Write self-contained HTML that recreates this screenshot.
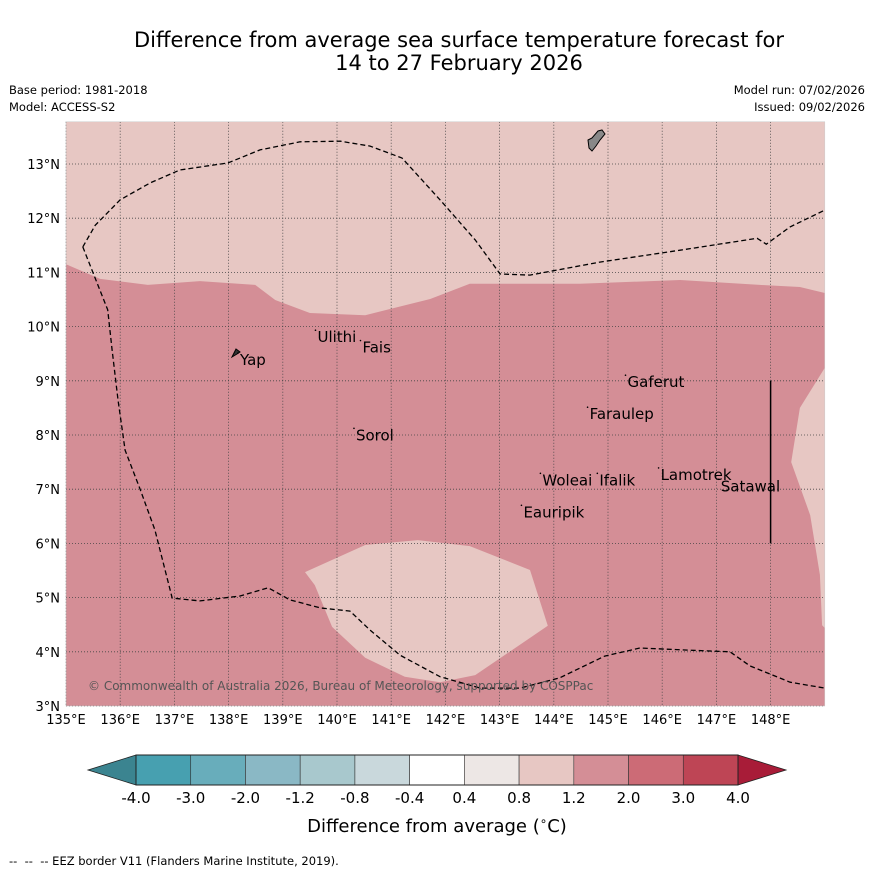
<!DOCTYPE html>
<html><head><meta charset="utf-8"><style>
body{margin:0;background:#fff;font-family:"DejaVu Sans","Liberation Sans",sans-serif}
svg text{font-family:"DejaVu Sans","Liberation Sans",sans-serif}
</style></head><body>
<svg id="c" width="873" height="873" viewBox="0 0 873 873" xmlns="http://www.w3.org/2000/svg">
<rect width="873" height="873" fill="#fff"/>
<text x="459" y="47" font-size="21" text-anchor="middle">Difference from average sea surface temperature forecast for</text>
<text x="459" y="70" font-size="21" text-anchor="middle">14 to 27 February 2026</text>
<text x="9" y="94" font-size="11.5">Base period: 1981-2018</text>
<text x="9" y="111" font-size="11.5">Model: ACCESS-S2</text>
<text x="865" y="94" font-size="11.5" text-anchor="end">Model run: 07/02/2026</text>
<text x="865" y="111" font-size="11.5" text-anchor="end">Issued: 09/02/2026</text>
<g id="map"></g>
<g id="cbar"></g>
<text x="437" y="832" font-size="18" text-anchor="middle">Difference from average (<tspan font-size="12" dy="-7">∘</tspan><tspan dy="7">C)</tspan></text>
<text x="9" y="865" font-size="11.5">-- &#160;-- &#160;-- EEZ border V11 (Flanders Marine Institute, 2019).</text>
</svg>
<script>
const lonTicks=[135,136,137,138,139,140,141,142,143,144,145,146,147,148];
const latTicks=[3,4,5,6,7,8,9,10,11,12,13];
const warmTopLon=[135,135.63,136.51,137.47,138.49,138.86,139.5,140.52,141.72,142.45,144.48,146.33,147.8,148.54,149];
const warmTopLat=[11.15,10.88,10.77,10.84,10.77,10.49,10.25,10.21,10.51,10.79,10.79,10.86,10.77,10.73,10.62];
const eastPatchLon=[149,148.54,148.38,148.73,148.91,148.95,149];
const eastPatchLat=[9.24,8.5,7.5,6.52,5.42,4.49,4.44];
const southPatchLon=[139.41,140.52,141.49,142.45,143.56,143.89,142.55,141.9,141.25,140.52,139.91,139.59];
const southPatchLat=[5.47,5.97,6.06,5.95,5.51,4.48,3.57,3.44,3.54,3.89,4.46,5.23];
const eezNLon=[135.31,135.54,136,136.55,137.1,137.99,138.58,139.32,140.06,140.61,141.2,141.9,142.55,143.01,143.56,144.85,146.33,147.75,147.92,148.36,149];
const eezNLat=[11.47,11.87,12.34,12.65,12.89,13.02,13.26,13.41,13.42,13.33,13.11,12.34,11.6,10.97,10.95,11.19,11.41,11.63,11.52,11.84,12.15];
const eezSLon=[135.31,135.77,135.85,135.96,136.09,136.37,136.64,136.96,137.47,138.21,138.73,139.13,139.69,140.24,140.61,141.16,141.9,142.64,143.38,144.11,144.94,145.59,146.51,147.25,147.62,148.36,149];
const eezSLat=[11.47,10.31,9.57,8.65,7.72,6.99,6.25,4.99,4.94,5.03,5.18,4.96,4.81,4.75,4.4,3.94,3.54,3.33,3.33,3.52,3.92,4.07,4.03,4,3.74,3.44,3.33];
const places=["Ulithi","Fais","Yap","Gaferut","Faraulep","Sorol","Woleai","Ifalik","Lamotrek","Satawal","Eauripik"];
const placeLon=[139.64,140.47,138.21,145.36,144.66,140.35,143.79,144.84,145.97,147.08,143.44];
const placeLat=[9.97,9.78,9.55,9.14,8.55,8.16,7.33,7.33,7.43,7.22,6.74];
const cbLevels=["-4.0","-3.0","-2.0","-1.2","-0.8","-0.4","0.4","0.8","1.2","2.0","3.0","4.0"];
const cbColors=["#47a0b0","#68adbb","#8ab8c5","#a8c8cd","#c9d8dc","#ffffff","#ede7e5","#e7c7c3","#d48e96","#cc6b76","#be4555"];

const NS="http://www.w3.org/2000/svg";
const X0=66,Y0=706,S=54.2;
const x=lon=>X0+(lon-135)*S, y=lat=>Y0-(lat-3)*S;
const map=document.getElementById('map');
function el(tag,attrs,parent){const e=document.createElementNS(NS,tag);for(const k in attrs)e.setAttribute(k,attrs[k]);parent.appendChild(e);return e;}
function pts(lo,la){return lo.map((v,i)=>x(v).toFixed(1)+','+y(la[i]).toFixed(1)).join(' ');}
const L=x(135),R=x(149),T=y(13.78),B=y(3);
const bg=el('rect',{x:L,y:T,width:R-L,height:B-T,fill:'#e7c7c3'},map);


const warm=el('polygon',{points:pts(warmTopLon.concat([149,135]),warmTopLat.concat([3,3])),fill:'#d48e96'},map);


const ep=el('polygon',{points:pts(eastPatchLon,eastPatchLat),fill:'#e7c7c3'},map);


const sp=el('polygon',{points:pts(southPatchLon,southPatchLat),fill:'#e7c7c3'},map);


lonTicks.forEach(v=>{
 const g=el('line',{x1:x(v),x2:x(v),y1:T,y2:B,stroke:'#444','stroke-width':0.8,'stroke-dasharray':'1,2'},map);
 
 
 const t=el('text',{x:x(v),y:B+18,'font-size':13,'text-anchor':'middle'},map);t.textContent=v+'°E';
 
 
});
latTicks.forEach(v=>{
 const g=el('line',{x1:L,x2:R,y1:y(v),y2:y(v),stroke:'#444','stroke-width':0.8,'stroke-dasharray':'1,2'},map);
 
 
 const t=el('text',{x:L-6,y:y(v)+5,'font-size':13,'text-anchor':'end'},map);t.textContent=v+'°N';
 
 
});
const e1=el('polyline',{points:pts(eezNLon,eezNLat),fill:'none',stroke:'#000','stroke-width':1.3,'stroke-dasharray':'5,3'},map);


const e2=el('polyline',{points:pts(eezSLon,eezSLat),fill:'none',stroke:'#000','stroke-width':1.3,'stroke-dasharray':'5,3'},map);


const vl=el('line',{x1:x(148),x2:x(148),y1:y(9),y2:y(6),stroke:'#000','stroke-width':1.5},map);


const guam=el('polygon',{points:'588,140 592,138 598,131 602,130 605,134 600,140 596,146 592,151 589,148',fill:'#888',stroke:'#000','stroke-width':1},map);


const yap=el('polygon',{points:'232,357 236,349 240,352 237,354',fill:'#333',stroke:'#000','stroke-width':1},map);


places.forEach((p,i)=>{
 const d=el('circle',{cx:x(placeLon[i])-2,cy:y(placeLat[i])+2,r:0.8,fill:'#000'},map);
 
 
 const t=el('text',{x:x(placeLon[i]),y:y(placeLat[i])+14,'font-size':15},map);t.textContent=p;
 
 
});
const cr=el('text',{x:88,y:690,'font-size':12,fill:'#555'},map);cr.textContent='© Commonwealth of Australia 2026, Bureau of Meteorology, supported by COSPPac';


const fr=el('rect',{x:L,y:T,width:R-L,height:B-T,fill:'none',stroke:'#ccc','stroke-width':0.5},map);



const cb=document.getElementById('cbar');
const cx0=136,cx1=738,cy0=755,cy1=785,bw=(cx1-cx0)/cbColors.length;
const lt=el('polygon',{points:`${cx0},${cy0} ${cx0},${cy1} 88,770`,fill:'#3b8490',stroke:'#222','stroke-width':0.8},cb);


const rt=el('polygon',{points:`${cx1},${cy0} ${cx1},${cy1} 786,770`,fill:'#a81c38',stroke:'#222','stroke-width':0.8},cb);


cbColors.forEach((c,i)=>{
 const r=el('rect',{x:cx0+i*bw,y:cy0,width:bw,height:cy1-cy0,fill:c,stroke:'#333','stroke-width':0.6},cb);
 
 
});
el('rect',{x:cx0,y:cy0,width:cx1-cx0,height:cy1-cy0,fill:'none',stroke:'#222','stroke-width':1},cb);
cbLevels.forEach((v,i)=>{
 const t=el('text',{x:cx0+i*bw,y:803,'font-size':15,'text-anchor':'middle'},cb);t.textContent=v;
 
 
});
</script>
</body></html>
